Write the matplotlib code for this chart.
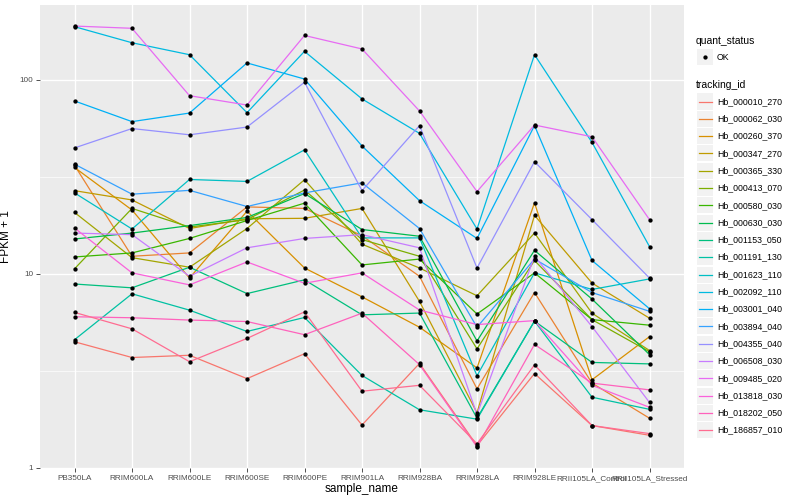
import matplotlib
matplotlib.use('Agg')
import matplotlib.pyplot as plt
import numpy as np
from matplotlib.lines import Line2D
from matplotlib.patches import Rectangle

plt.rcParams['font.family'] = ['Liberation Sans', 'DejaVu Sans']

# samples on the x axis
samples = ['PB350LA', 'RRIM600LA', 'RRIM600LE', 'RRIM600SE', 'RRIM600PE',
           'RRIM901LA', 'RRIM928BA', 'RRIM928LA', 'RRIM928LE',
           'RRII105LA_Control', 'RRII105LA_Stressed']

# FPKM + 1 per gene
hb_000010_270 = [4.46, 3.70, 3.80, 2.88, 3.87, 1.66, 3.45, 1.30, 3.06, 1.65, 1.47]
hb_000062_030 = [36.2, 12.3, 12.8, 22.1, 21.7, 15.7, 9.7, 2.55, 8.0, 2.73, 1.8]
hb_000260_370 = [35.3, 21.3, 9.5, 21.0, 10.7, 7.6, 5.3, 3.27, 23.2, 2.84, 4.74]
hb_000347_270 = [26.8, 24.0, 17.1, 19.2, 19.3, 21.7, 7.2, 1.92, 20.0, 8.95, 5.9]
hb_000365_330 = [20.7, 12.1, 10.8, 17.1, 30.5, 14.2, 10.7, 7.7, 16.2, 6.26, 4.02]
hb_000413_070 = [10.6, 21.7, 17.4, 19.0, 27.0, 15.0, 12.3, 4.1, 11.7, 5.8, 3.96]
hb_000580_030 = [12.2, 12.8, 15.2, 18.8, 23.1, 11.1, 11.9, 6.2, 10.1, 5.8, 5.43]
hb_000630_030 = [15.1, 16.2, 17.7, 19.5, 25.9, 16.9, 15.6, 4.5, 13.2, 7.4, 3.83]
hb_001153_050 = [8.85, 8.46, 10.8, 7.9, 9.3, 6.14, 6.27, 1.8, 5.7, 3.49, 3.43]
hb_001191_130 = [4.57, 7.88, 6.49, 5.04, 5.95, 2.99, 1.99, 1.78, 5.7, 2.31, 2.0]
hb_001623_110 = [26.1, 17.0, 30.6, 29.9, 43.5, 15.3, 15.3, 2.98, 10.1, 8.3, 9.4]
hb_002092_110 = [187.6, 155, 134.5, 67.6, 140, 79.6, 52.9, 17.0, 134.5, 47.5, 13.8]
hb_003001_040 = [77.7, 60.8, 67.3, 122, 100.8, 45.5, 23.8, 15.2, 58.0, 11.7, 6.6]
hb_003894_040 = [36.7, 25.7, 26.9, 22.2, 26.1, 29.4, 17.1, 5.3, 11.9, 8.0, 6.4]
hb_004355_040 = [44.5, 56, 52, 57, 97, 26.8, 58, 10.7, 37.8, 19, 9.5]
hb_006508_030 = [16.2, 15.9, 9.7, 13.6, 15.2, 15.9, 13.6, 1.88, 12.3, 5.34, 2.17]
hb_009485_020 = [189, 184, 82.7, 74, 169, 144, 69, 26.5, 58.4, 50.8, 19]
hb_013818_030 = [17.2, 10.1, 8.76, 11.5, 8.93, 10.1, 6.5, 5.47, 5.73, 2.66, 2.05]
hb_018202_050 = [6.0, 5.93, 5.77, 5.67, 4.85, 6.26, 3.4, 1.28, 4.32, 2.73, 2.52]
hb_186857_010 = [6.32, 5.2, 3.52, 4.64, 6.36, 2.48, 2.66, 1.33, 3.39, 1.65, 1.50]

tracking_ids = ['Hb_000010_270', 'Hb_000062_030', 'Hb_000260_370', 'Hb_000347_270',
                'Hb_000365_330', 'Hb_000413_070', 'Hb_000580_030', 'Hb_000630_030',
                'Hb_001153_050', 'Hb_001191_130', 'Hb_001623_110', 'Hb_002092_110',
                'Hb_003001_040', 'Hb_003894_040', 'Hb_004355_040', 'Hb_006508_030',
                'Hb_009485_020', 'Hb_013818_030', 'Hb_018202_050', 'Hb_186857_010']
series = [hb_000010_270, hb_000062_030, hb_000260_370, hb_000347_270, hb_000365_330,
          hb_000413_070, hb_000580_030, hb_000630_030, hb_001153_050, hb_001191_130,
          hb_001623_110, hb_002092_110, hb_003001_040, hb_003894_040, hb_004355_040,
          hb_006508_030, hb_009485_020, hb_013818_030, hb_018202_050, hb_186857_010]

# ggplot2 default hue palette for 20 levels
colors = ['#F8766D', '#EA8331', '#D89000', '#C09B00', '#A3A500', '#7CAE00', '#39B600',
          '#00BB4E', '#00BF7D', '#00C1A3', '#00BFC4', '#00BAE0', '#00B0F6', '#35A2FF',
          '#9590FF', '#C77CFF', '#E76BF3', '#FA62DB', '#FF62BC', '#FF6C91']

W, H = 800, 500
fig = plt.figure(figsize=(8, 5), dpi=100)
ax = fig.add_axes([40 / W, 1 - 468 / H, 644 / W, 463 / H])
ax.set_facecolor('#EBEBEB')

x = np.arange(len(samples))
for vals, col in zip(series, colors):
    ax.plot(x, vals, '-', color=col, linewidth=0.9, zorder=3)
for vals in series:
    ax.plot(x, vals, 'o', color='black', markersize=3.1, markeredgewidth=0, zorder=4)

ax.set_yscale('log')
allv = np.log10(np.concatenate([np.array(s) for s in series]))
lo, hi = allv.min(), allv.max()
pad = 0.05 * (hi - lo)
ax.set_ylim(10 ** (lo - pad), 10 ** (hi + pad))
ax.set_xlim(-0.6, len(samples) - 0.4)

ax.set_yticks([1, 10, 100])
ax.set_yticklabels(['1', '10', '100'])
ax.set_yticks([10 ** 0.5, 10 ** 1.5], minor=True)
ax.yaxis.set_minor_formatter(plt.NullFormatter())
ax.set_xticks(x)
ax.set_xticklabels(samples)

ax.grid(True, which='major', color='white', linewidth=1.0, zorder=0)
ax.grid(True, which='minor', axis='y', color='white', linewidth=0.5, zorder=0)
ax.set_axisbelow(True)
for s in ax.spines.values():
    s.set_visible(False)
ax.tick_params(axis='both', which='major', length=3, width=0.6, color='#333333',
               labelsize=5.9, labelcolor='#4D4D4D', pad=2)
ax.tick_params(axis='y', which='minor', length=0)

ax.set_xlabel('sample_name', fontsize=8.5, labelpad=1)
ax.set_ylabel('FPKM + 1', fontsize=8.5)
ax.yaxis.set_label_coords(-28 / 644, 0.5)


# legends drawn in pixel coordinates on the right
def fx(px):
    return px / W


def fy(py):
    return 1 - py / H


fig.text(fx(696), fy(41), 'quant_status', fontsize=7.5, va='center', ha='left')
fig.add_artist(Rectangle((fx(697), fy(65)), 16 / W, 16 / H, transform=fig.transFigure,
                         facecolor='#F2F2F2', edgecolor='none'))
fig.add_artist(Line2D([fx(705)], [fy(57)], marker='o', color='black', markersize=3.1,
                      markeredgewidth=0, transform=fig.transFigure))
fig.text(fx(717), fy(57), 'OK', fontsize=6.3, va='center', ha='left')

fig.text(fx(696), fy(85), 'tracking_id', fontsize=7.5, va='center', ha='left')
for i, (tid, col) in enumerate(zip(tracking_ids, colors)):
    cy = 101.5 + i * 17.3
    fig.add_artist(Rectangle((fx(697), fy(cy + 8)), 16 / W, 16 / H, transform=fig.transFigure,
                             facecolor='#F2F2F2', edgecolor='none'))
    fig.add_artist(Line2D([fx(699), fx(712)], [fy(cy), fy(cy)], color=col, linewidth=0.9,
                          transform=fig.transFigure))
    fig.text(fx(717), fy(cy), tid, fontsize=6.3, va='center', ha='left')

fig.savefig('out.png', dpi=100)
